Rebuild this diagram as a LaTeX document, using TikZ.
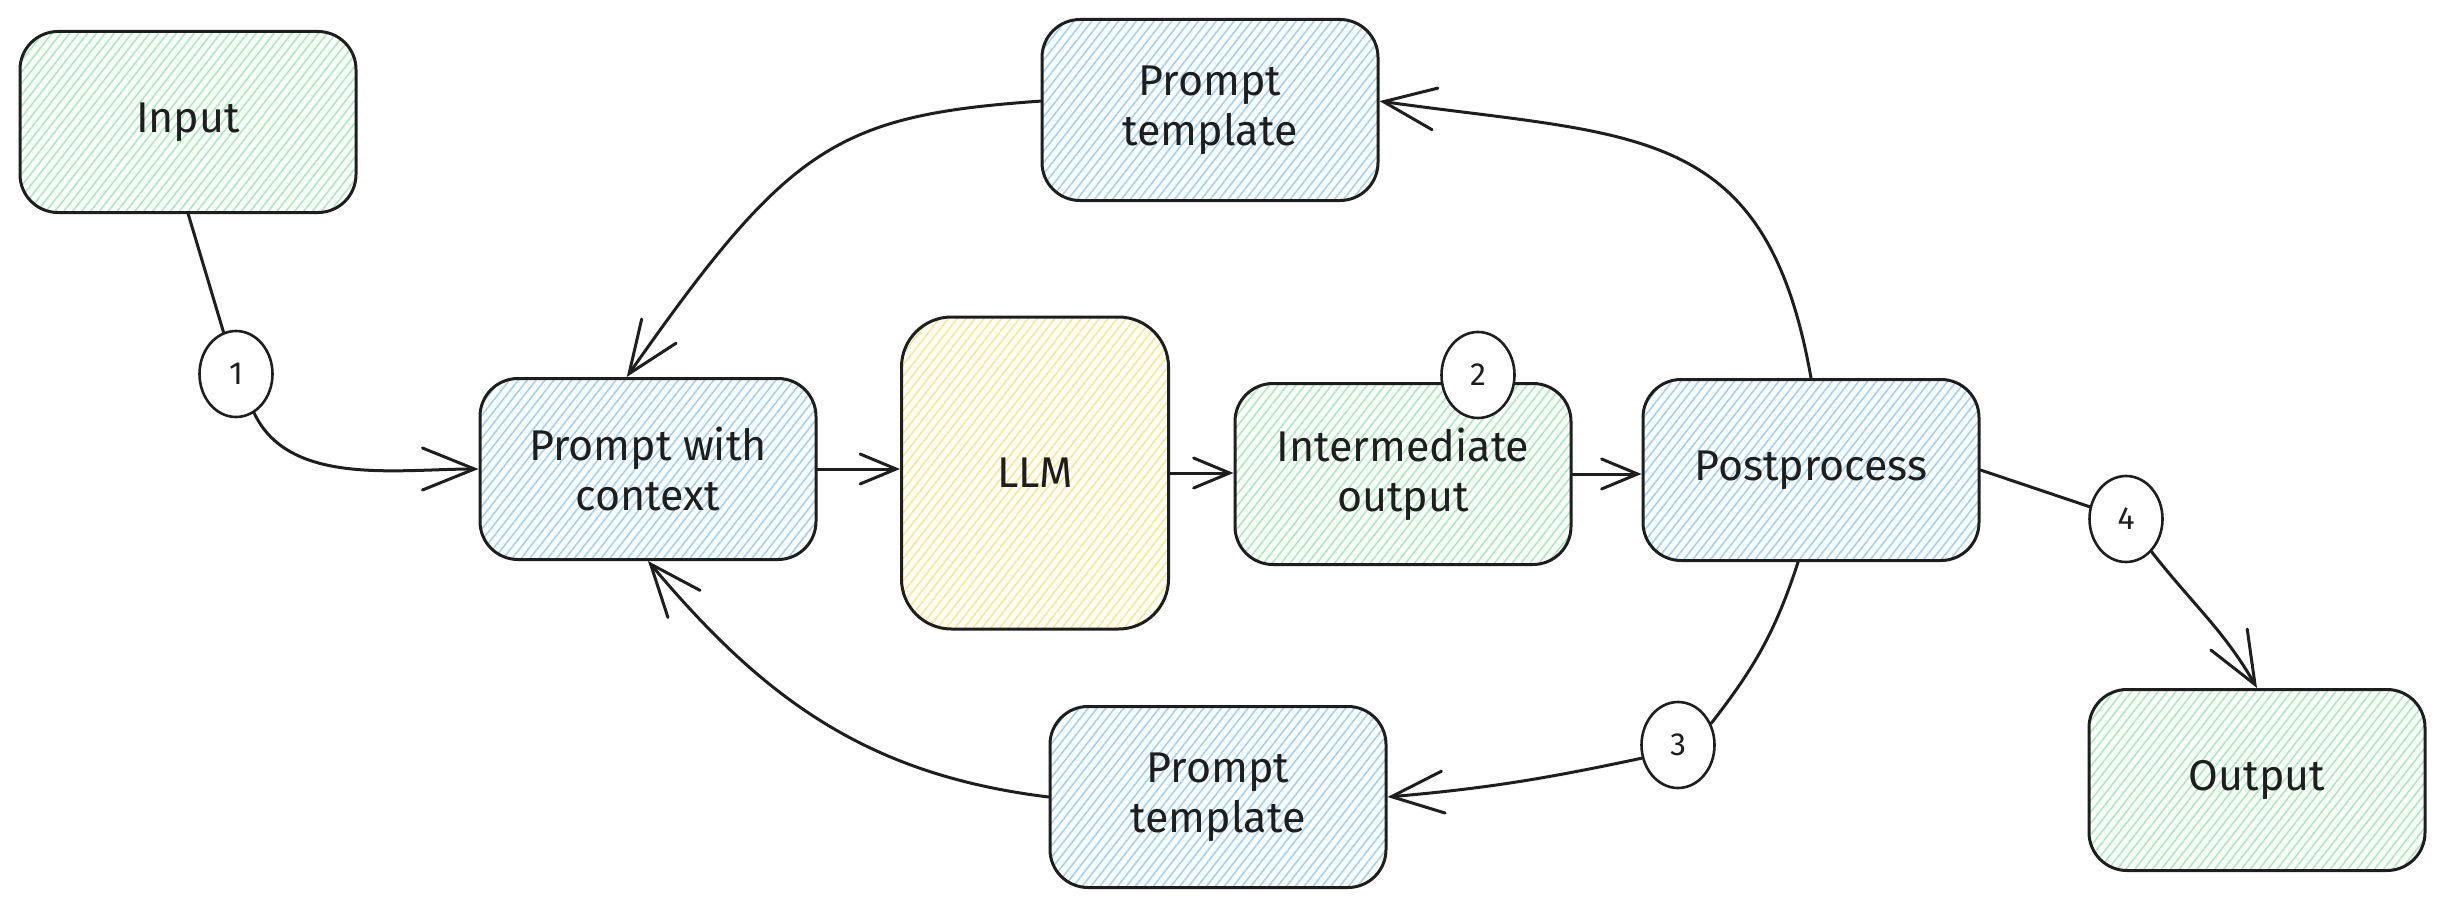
\documentclass[tikz,border=0pt]{standalone}
\usepackage{fontspec}
\setmainfont{Fira Sans}
\usetikzlibrary{arrows.meta,patterns.meta,shapes.geometric,calc}
\definecolor{ink}{HTML}{1E1E1E}
\definecolor{hgreen}{HTML}{A8EDB3}
\definecolor{hblue}{HTML}{9ED2FA}
\definecolor{hyellow}{HTML}{FFE68A}
\begin{document}
\begin{tikzpicture}[x=1pt,y=1pt,
  box/.style={draw=ink, line width=3pt, rounded corners=38pt, minimum width=336pt,
    minimum height=181pt, inner sep=0pt, align=center,
    font=\fontsize{43}{50}\selectfont, text=ink},
  greenbox/.style={box, pattern={Lines[angle=52,distance=7pt,line width=1.6pt]}, pattern color=hgreen},
  bluebox/.style={box, pattern={Lines[angle=52,distance=7pt,line width=1.6pt]}, pattern color=hblue},
  yellowbox/.style={box, pattern={Lines[angle=52,distance=7pt,line width=1.6pt]}, pattern color=hyellow},
  num/.style={ellipse, draw=ink, line width=2.6pt, fill=white, minimum width=73pt,
    minimum height=86pt, inner sep=0pt, font=\fontsize{32}{32}\selectfont, text=ink},
  conn/.style={draw=ink, line width=3pt, line cap=round, line join=round},
  bigtip/.style={-{Straight Barb[length=52pt,width=42pt,line cap=round]}},
  smalltip/.style={-{Straight Barb[length=36pt,width=30pt,line cap=round]}}
]
\useasboundingbox (0,0) rectangle (2445,-907);

% boxes
\node[greenbox] (input) at (188,-122) {Input};
\node[bluebox] (pt1) at (1210,-110) {Prompt\\template};
\node[bluebox] (pwc) at (648,-469) {Prompt with\\context};
\node[yellowbox, minimum width=267pt, minimum height=312pt, rounded corners=50pt] (llm) at (1035,-473) {LLM};
\node[greenbox] (io) at (1403,-474) {Intermediate\\output};
\node[bluebox] (pp) at (1811,-470) {Postprocess};
\node[greenbox] (out) at (2257,-780) {Output};
\node[bluebox] (pt2) at (1218,-797) {Prompt\\template};

% numbered markers
\node[num] (c1) at (236,-374) {1};
\node[num] (c2) at (1478,-375) {2};
\node[num] (c3) at (1678,-745) {3};
\node[num] (c4) at (2126,-519) {4};

% connectors
\draw[conn] (input.south) -- (c1);
\draw[conn, bigtip] (c1) to[out=-65,in=180,looseness=0.9] (pwc.west);
\draw[conn, bigtip] (pt1.177) to[out=184,in=55,out looseness=1.05,in looseness=1.45] (pwc.103);
\draw[conn, smalltip] (pwc.east) -- (pwc.east -| llm.west);
\draw[conn, smalltip] (llm.east) -- (llm.east -| io.west);
\draw[conn, smalltip] (io.east) -- (io.east -| pp.west);
\draw[conn, bigtip] (pp.north) to[out=100,in=-8,looseness=1.3] (pt1.3);
\draw[conn] (pp.-98) to[out=-108,in=52] (c3.33);
\draw[conn, bigtip] (c3.200) to[out=192,in=5] (pt2.east);
\draw[conn, bigtip] (pt2.west) to[out=173,in=-50] (pwc.south);
\draw[conn] (pp.east) -- (c4);
\draw[conn, bigtip] (c4) to[out=-52,in=120] (out.north);
\end{tikzpicture}
\end{document}
